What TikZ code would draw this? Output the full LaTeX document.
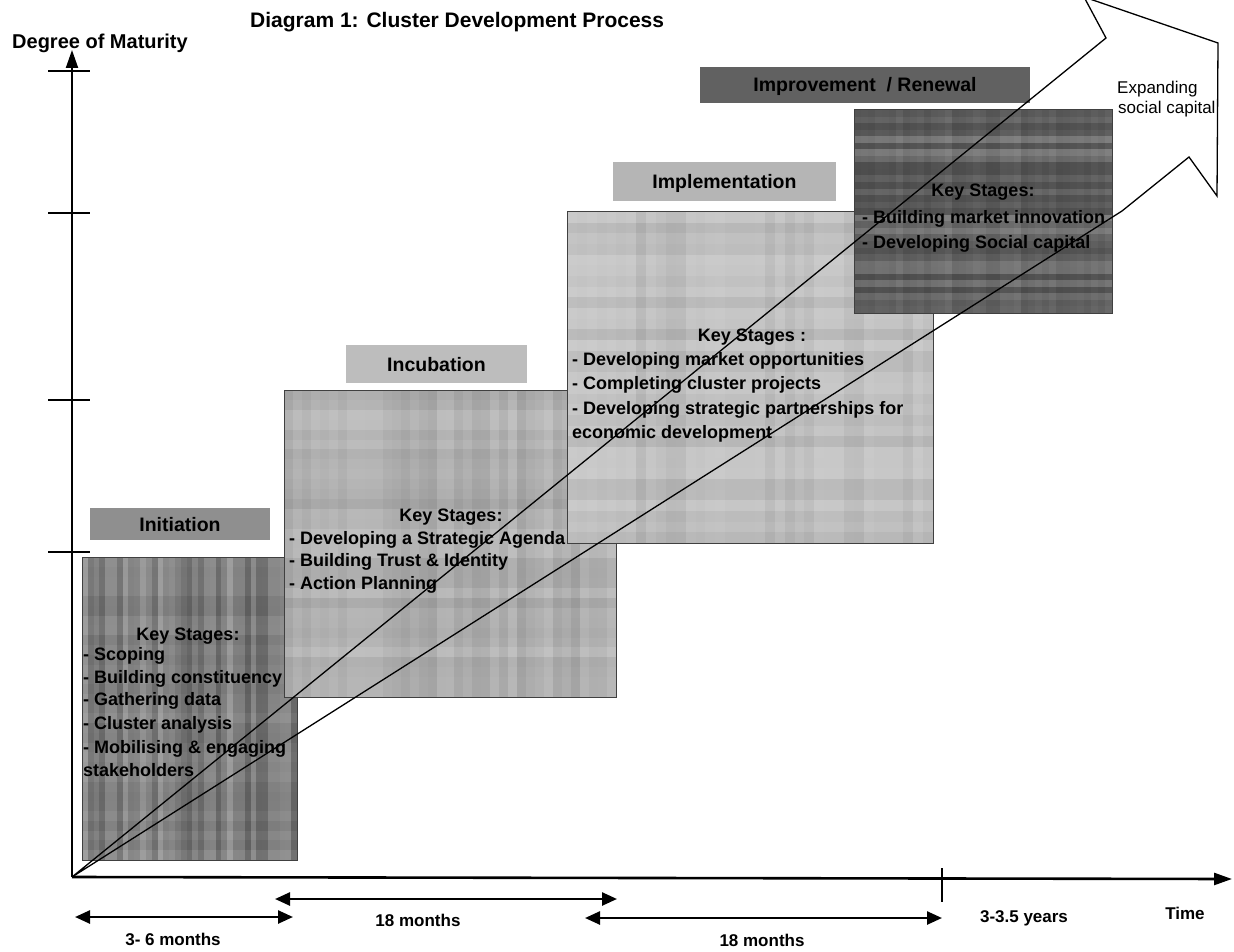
\documentclass[tikz,border=0pt]{standalone}
\usepackage{fontspec}
\setmainfont{Liberation Sans}
\usetikzlibrary{arrows.meta}
\definecolor{initfill}{gray}{0.50}
\definecolor{initban}{gray}{0.56}
\definecolor{incfill}{gray}{0.72}
\definecolor{incban}{gray}{0.74}
\definecolor{impfill}{gray}{0.77}
\definecolor{impban}{gray}{0.71}
\definecolor{renfill}{gray}{0.40}
\definecolor{renban}{gray}{0.38}
\tikzset{
  stagebox/.style={anchor=north west, inner sep=0pt, outer sep=0pt},
  boxline/.style={draw=black!75, line width=1pt},
  bannerbox/.style={anchor=north west, inner sep=0pt, outer sep=0pt, text height=14pt, text depth=0pt, font=\bfseries\fontsize{19.5}{22}\selectfont},
  keystage/.style={anchor=base, inner sep=0pt, font=\bfseries\fontsize{18}{22}\selectfont},
  stageitem/.style={anchor=base west, inner sep=0pt, font=\bfseries\fontsize{18}{22}\selectfont},
  axisline/.style={line width=2pt, -{Triangle[length=18pt,width=12pt]}},
  spanarrow/.style={line width=2.5pt, {Triangle[length=15pt,width=13pt]}-{Triangle[length=15pt,width=13pt]}},
  periodlabel/.style={anchor=base, inner sep=0pt, font=\bfseries\fontsize{17}{20}\selectfont},
  trendline/.style={line width=1.3pt, line join=miter},
  ticksty/.style={line width=1.3pt},
}
% mottled texture: x1 y1 x2 y2 seed vertical-amplitude horizontal-amplitude
\newcommand{\mottle}[7]{%
  \begin{scope}
    \clip (#1,#2) rectangle (#3,#4);
    \pgfmathsetseed{#5}
    \foreach \k in {0,...,36}{
      \pgfmathsetmacro\xa{#1+(#3-#1)*\k/37}
      \pgfmathsetmacro\rv{rand}
      \pgfmathsetmacro\op{#6*abs(\rv)}
      \ifdim \rv pt>0pt \def\stripecol{black}\else\def\stripecol{white}\fi
      \fill[\stripecol, fill opacity=\op] (\xa,#2) rectangle ({\xa+(#3-#1)/37},#4);
    }
    \foreach \k in {0,...,30}{
      \pgfmathsetmacro\ya{#2+(#4-#2)*\k/31}
      \pgfmathsetmacro\rv{rand}
      \pgfmathsetmacro\op{#7*abs(\rv)}
      \ifdim \rv pt>0pt \def\stripecol{black}\else\def\stripecol{white}\fi
      \fill[\stripecol, fill opacity=\op] (#1,\ya) rectangle (#3,{\ya+(#4-#2)/31});
    }
  \end{scope}}
\begin{document}
\begin{tikzpicture}[x=1pt,y=-1pt]
\useasboundingbox[fill=white] (0,0) rectangle (1234,952);

% titles
\node[anchor=base west, inner sep=0pt, font=\bfseries\fontsize{21}{24}\selectfont] (title) at (250,28) {Diagram 1: Cluster Development Process};
\node[anchor=base west, inner sep=0pt, font=\bfseries\fontsize{20}{24}\selectfont] (ylabel) at (12,49) {Degree of Maturity};

% ---------- Initiation ----------
\node[bannerbox, fill=initban, minimum width=180pt, minimum height=32pt] (initban) at (90,508) {Initiation};
\node[stagebox, fill=initfill, minimum width=215pt, minimum height=303pt] (initbox) at (82,557) {};
\mottle{82}{557}{297}{860}{3}{0.22}{0.06}
\draw[boxline] (initbox.north west) rectangle (initbox.south east);
\node[keystage] (initks) at (188,640) {Key Stages:};
\node[stageitem] (init1) at (83,660) {- Scoping};
\node[stageitem] (init2) at (83,683) {- Building constituency};
\node[stageitem] (init3) at (83,705) {- Gathering data};
\node[stageitem] (init4) at (83,729) {- Cluster analysis};
\node[stageitem] (init5) at (83,753) {- Mobilising \& engaging};
\node[stageitem] (init6) at (83,776) {stakeholders};

% ---------- Incubation ----------
\node[bannerbox, fill=incban, minimum width=181pt, minimum height=38pt] (incban) at (346,345) {Incubation};
\node[stagebox, fill=incfill, minimum width=332pt, minimum height=307pt] (incbox) at (284,390) {};
\mottle{284}{390}{616}{697}{11}{0.09}{0.09}
\draw[boxline] (incbox.north west) rectangle (incbox.south east);
\node[keystage] (incks) at (451,521) {Key Stages:};
\node[stageitem] (inc1) at (289,544) {- Developing a Strategic Agenda};
\node[stageitem] (inc2) at (289,566) {- Building Trust \& Identity};
\node[stageitem] (inc3) at (289,589) {- Action Planning};

% ---------- Implementation ----------
\node[bannerbox, fill=impban, minimum width=223pt, minimum height=39pt] (impban) at (613,162) {Implementation};
\node[stagebox, fill=impfill, minimum width=366pt, minimum height=331pt] (impbox) at (567,212) {};
\mottle{567}{212}{933}{543}{23}{0.07}{0.07}
\draw[boxline] (impbox.north west) rectangle (impbox.south east);
\node[keystage] (impks) at (752,341) {Key Stages :};
\node[stageitem] (imp1) at (572,365) {- Developing market opportunities};
\node[stageitem] (imp2) at (572,389) {- Completing cluster projects};
\node[stageitem] (imp3) at (572,414) {- Developing strategic partnerships for};
\node[stageitem] (imp4) at (572,438) {economic development};

% ---------- Improvement / Renewal ----------
\node[bannerbox, fill=renban, minimum width=330pt, minimum height=36pt] (renban) at (700,67) {Improvement\ \ / Renewal};
\node[stagebox, fill=renfill, minimum width=258pt, minimum height=203pt] (renbox) at (854,110) {};
\mottle{854}{110}{1112}{313}{37}{0.07}{0.22}
\draw[boxline] (renbox.north west) rectangle (renbox.south east);
\node[keystage] (renks) at (983,197) {Key Stages:};
\node[stageitem] (ren1) at (862,223) {- Building market innovation};
\node[stageitem] (ren2) at (862,248) {- Developing Social capital};

% ---------- growth arrow ----------
\coordinate (O) at (72,877);
\coordinate (hA) at (1106,38);
\coordinate (hB) at (1084,-3);
\coordinate (hC) at (1218,43);
\coordinate (hD) at (1217,196);
\coordinate (hE) at (1189,157);
\coordinate (hF) at (1122,211);
\draw[trendline] (O) -- (hA) -- (hB) -- (hC) -- (hD) -- (hE) -- (hF) -- cycle;
\node[anchor=base west, inner sep=0pt, font=\fontsize{17}{20}\selectfont] (exp1) at (1117,94) {Expanding};
\node[anchor=base west, inner sep=0pt, font=\fontsize{17}{20}\selectfont] (exp2) at (1118,114) {social capital};

% ---------- axes ----------
\coordinate (ytip) at (72,50);
\coordinate (xtip) at (1232,879);
\draw[axisline] (O) -- (ytip);
\draw[axisline, line width=2.6pt] (O) -- (xtip);
\foreach \t in {71,213,400,552} \draw[ticksty] (48,\t) -- (90,\t);
\draw[ticksty] (942,868) -- (942,902);

% ---------- time spans ----------
\coordinate (s1a) at (75,917);  \coordinate (s1b) at (293,917);
\coordinate (s2a) at (275,899); \coordinate (s2b) at (617,899);
\coordinate (s3a) at (585,918); \coordinate (s3b) at (942,918);
\draw[spanarrow] (s1a) -- (s1b);
\draw[spanarrow] (s2a) -- (s2b);
\draw[spanarrow] (s3a) -- (s3b);
\node[periodlabel] (p1) at (173,945) {3- 6 months};
\node[periodlabel] (p2) at (418,926) {18 months};
\node[periodlabel] (p3) at (762,946) {18 months};
\node[periodlabel] (p4) at (1024,922) {3-3.5 years};
\node[periodlabel] (ptime) at (1185,919) {Time};
\end{tikzpicture}
\end{document}
